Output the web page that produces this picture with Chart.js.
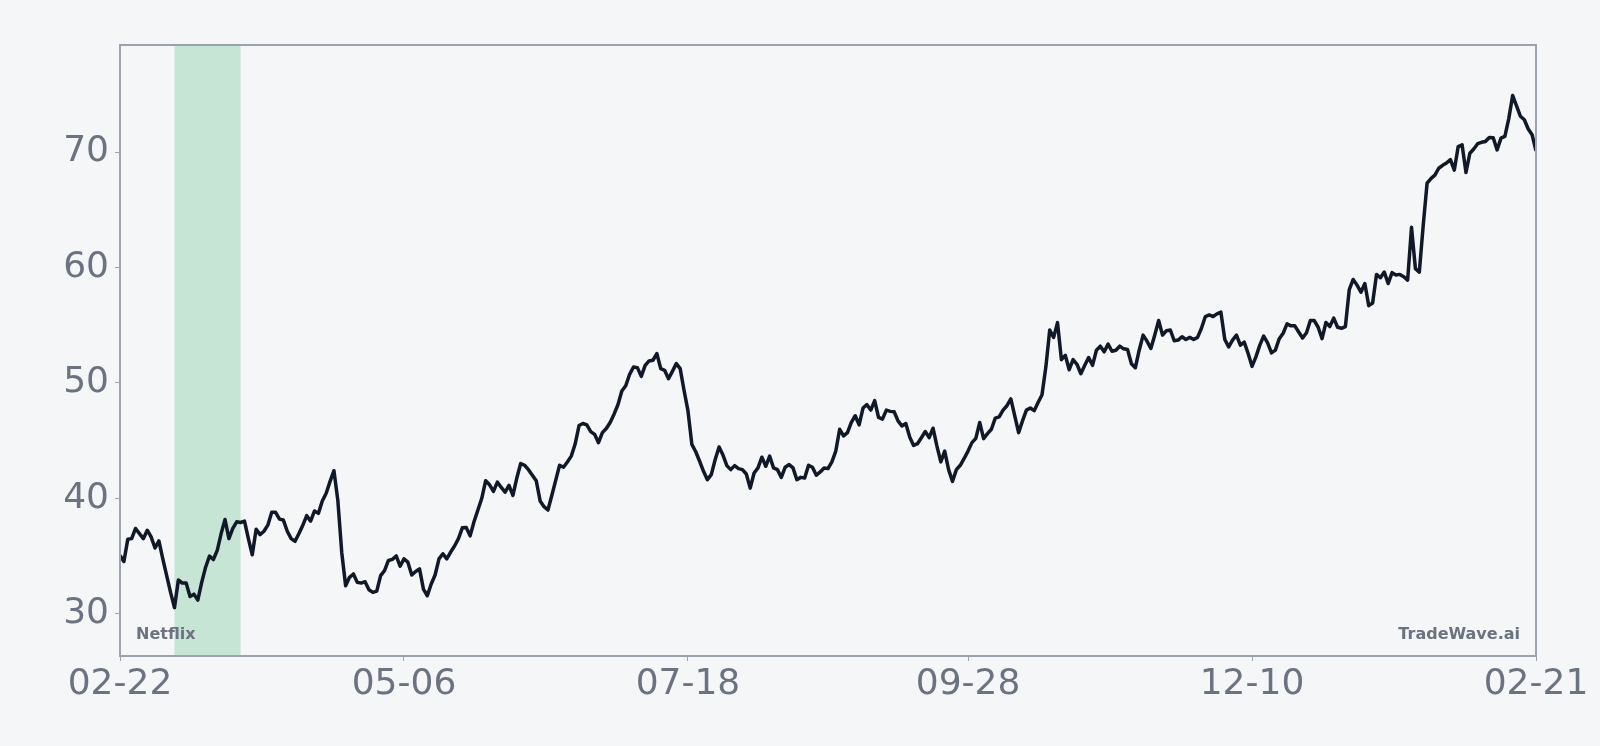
<!DOCTYPE html>
<html>
<head>
<meta charset="utf-8">
<script src="https://cdn.jsdelivr.net/npm/chart.js@4.4.0/dist/chart.umd.min.js"></script>
<style>
  html, body { margin: 0; padding: 0; background: #f4f6f8; }
  #wrap { width: 1600px; height: 746px; }
</style>
</head>
<body>
<div id="wrap"><canvas id="chart" width="1600" height="746"></canvas></div>
<script>
// daily closes, one per calendar day starting 02-22
const closes = [
  35.04, 34.52, 36.44, 36.5, 37.38, 36.94, 36.5, 37.23, 36.65, 35.69,
  36.3, 34.75, 33.3, 31.84, 30.52, 32.92, 32.65, 32.65, 31.49, 31.69,
  31.17, 32.71, 34.02, 34.99, 34.69, 35.48, 36.94, 38.16, 36.5, 37.38,
  37.96, 37.9, 38.02, 36.5, 35.1, 37.32, 36.85, 37.14, 37.67, 38.78,
  38.78, 38.19, 38.11, 37.14, 36.5, 36.27, 36.94, 37.67, 38.49, 38.02,
  38.9, 38.69, 39.77, 40.44, 41.46, 42.39, 39.8, 35.3, 32.42, 33.15,
  33.44, 32.71, 32.65, 32.77, 32.07, 31.84, 31.95, 33.3, 33.73, 34.61,
  34.7, 35.0, 34.11, 34.75, 34.46, 33.35, 33.65, 33.88, 32.13, 31.55,
  32.57, 33.35, 34.75, 35.19, 34.75, 35.34, 35.86, 36.5, 37.44, 37.47,
  36.74, 37.96, 38.98, 40.0, 41.52, 41.17, 40.59, 41.4, 40.94, 40.53,
  41.11, 40.24, 41.75, 43.01, 42.86, 42.48, 41.99, 41.52, 39.77, 39.27,
  38.98, 40.24, 41.55, 42.86, 42.69, 43.15, 43.65, 44.7, 46.3, 46.48,
  46.36, 45.78, 45.54, 44.82, 45.69, 46.04, 46.57, 47.29, 48.1, 49.3,
  49.75, 50.74, 51.38, 51.32, 50.56, 51.52, 51.9, 51.96, 52.54, 51.23,
  51.09, 50.36, 51.0, 51.67, 51.23, 49.34, 47.59, 44.67, 44.03, 43.21,
  42.34, 41.61, 42.05, 43.36, 44.44, 43.74, 42.83, 42.48, 42.83, 42.57,
  42.48, 42.1, 40.88, 42.19, 42.63, 43.56, 42.77, 43.65, 42.63, 42.48,
  41.81, 42.69, 42.92, 42.63, 41.61, 41.81, 41.75, 42.86, 42.69, 41.99,
  42.28, 42.63, 42.57, 43.15, 44.09, 45.98, 45.4, 45.69, 46.57, 47.15,
  46.36, 47.82, 48.11, 47.64, 48.46, 47.0, 46.86, 47.64, 47.53, 47.5,
  46.71, 46.27, 46.48, 45.31, 44.58, 44.73, 45.25, 45.78, 45.25, 46.07,
  44.52, 43.15, 44.09, 42.48, 41.46, 42.48, 42.86, 43.45, 44.09, 44.82,
  45.19, 46.57, 45.17, 45.6, 45.98, 46.94, 47.06, 47.64, 48.02, 48.61,
  47.15, 45.69, 46.71, 47.64, 47.82, 47.59, 48.3, 48.95, 51.37, 54.58,
  53.94, 55.22, 52.01, 52.39, 51.14, 52.01, 51.61, 50.79, 51.52, 52.19,
  51.52, 52.83, 53.18, 52.69, 53.36, 52.74, 52.83, 53.18, 52.95, 52.89,
  51.66, 51.31, 52.83, 54.14, 53.62, 52.98, 54.14, 55.4, 54.14, 54.52,
  54.58, 53.65, 53.71, 54.0, 53.76, 53.94, 53.76, 53.94, 54.73, 55.75,
  55.89, 55.75, 55.98, 56.13, 53.76, 53.12, 53.71, 54.14, 53.27, 53.53,
  52.54, 51.43, 52.25, 53.27, 54.06, 53.47, 52.6, 52.84, 53.83, 54.3,
  55.11, 54.94, 54.94, 54.41, 53.89, 54.35, 55.4, 55.4, 54.82, 53.83,
  55.23, 54.88, 55.61, 54.82, 54.73, 54.88, 58.09, 58.96, 58.47, 57.85,
  58.61, 56.69, 56.92, 59.4, 59.11, 59.6, 58.61, 59.55, 59.34, 59.4,
  59.2, 58.9, 63.48, 59.9, 59.6, 63.63, 67.3, 67.7, 68.0, 68.6,
  68.85, 69.05, 69.35, 68.44, 70.48, 70.63, 68.24, 69.9, 70.27, 70.73,
  70.85, 70.92, 71.27, 71.24, 70.19, 71.21, 71.36, 72.9, 74.9, 74.0,
  73.1, 72.8, 72.0, 71.5, 70.1
];
const tickDays = [0, 73, 146, 218, 291, 364];
const tickLabels = ['02-22', '05-06', '07-18', '09-28', '12-10', '02-21'];
const yTicks = [30, 40, 50, 60, 70];
const highlightDays = [14, 31];
const symbolName = 'Netflix';
const brandName = 'TradeWave.ai';

const gray = '#6b7280';
const frameColor = '#9ca3af';
const fontFamily = '"DejaVu Sans", sans-serif';

const chartDecor = {
  id: 'chartDecor',
  beforeDatasetsDraw(chart) {
    const { ctx, chartArea: a, scales: { x } } = chart;
    const x0 = x.getPixelForValue(highlightDays[0]);
    const x1 = x.getPixelForValue(highlightDays[1]);
    ctx.save();
    ctx.fillStyle = 'rgba(22, 163, 74, 0.2)';
    ctx.fillRect(x0, a.top, x1 - x0, a.bottom - a.top);
    ctx.restore();
  },
  afterDatasetsDraw(chart) {
    const { ctx, chartArea: a } = chart;
    ctx.save();
    ctx.strokeStyle = frameColor;
    ctx.lineWidth = 2;
    ctx.strokeRect(a.left, a.top, a.right - a.left, a.bottom - a.top);
    ctx.fillStyle = gray;
    ctx.font = 'bold 16px ' + fontFamily;
    ctx.textBaseline = 'alphabetic';
    ctx.textAlign = 'left';
    ctx.fillText(symbolName, a.left + 16, a.bottom - 17);
    ctx.textAlign = 'right';
    ctx.fillText(brandName, a.right - 16, a.bottom - 17);
    ctx.restore();
  }
};

new Chart(document.getElementById('chart'), {
  type: 'line',
  data: {
    datasets: [{
      data: closes.map((v, i) => ({ x: i, y: v })),
      borderColor: '#111827',
      borderWidth: 3.5,
      borderJoinStyle: 'round',
      pointRadius: 0,
      tension: 0,
      fill: false
    }]
  },
  options: {
    responsive: false,
    animation: false,
    devicePixelRatio: 1,
    events: [],
    layout: { padding: { top: 45, right: 64, left: 0, bottom: 0 } },
    plugins: { legend: { display: false }, tooltip: { enabled: false } },
    scales: {
      x: {
        type: 'linear',
        min: 0,
        max: 364,
        afterBuildTicks: s => { s.ticks = tickDays.map(v => ({ value: v })); },
        afterFit: s => { s.height = 90; },
        grid: { drawOnChartArea: false, drawTicks: true, tickLength: 5, color: frameColor },
        border: { display: false },
        ticks: {
          autoSkip: false,
          maxRotation: 0,
          padding: 2,
          color: gray,
          font: { family: fontFamily, size: 36 },
          callback: v => tickLabels[tickDays.indexOf(v)]
        }
      },
      y: {
        min: 26.33,
        max: 79.28,
        afterBuildTicks: s => { s.ticks = yTicks.map(v => ({ value: v })); },
        afterFit: s => { s.width = 120; },
        grid: { drawOnChartArea: false, drawTicks: true, tickLength: 5, color: frameColor },
        border: { display: false },
        ticks: {
          padding: 6,
          color: gray,
          font: { family: fontFamily, size: 36 }
        }
      }
    }
  },
  plugins: [chartDecor]
});
</script>
</body>
</html>
